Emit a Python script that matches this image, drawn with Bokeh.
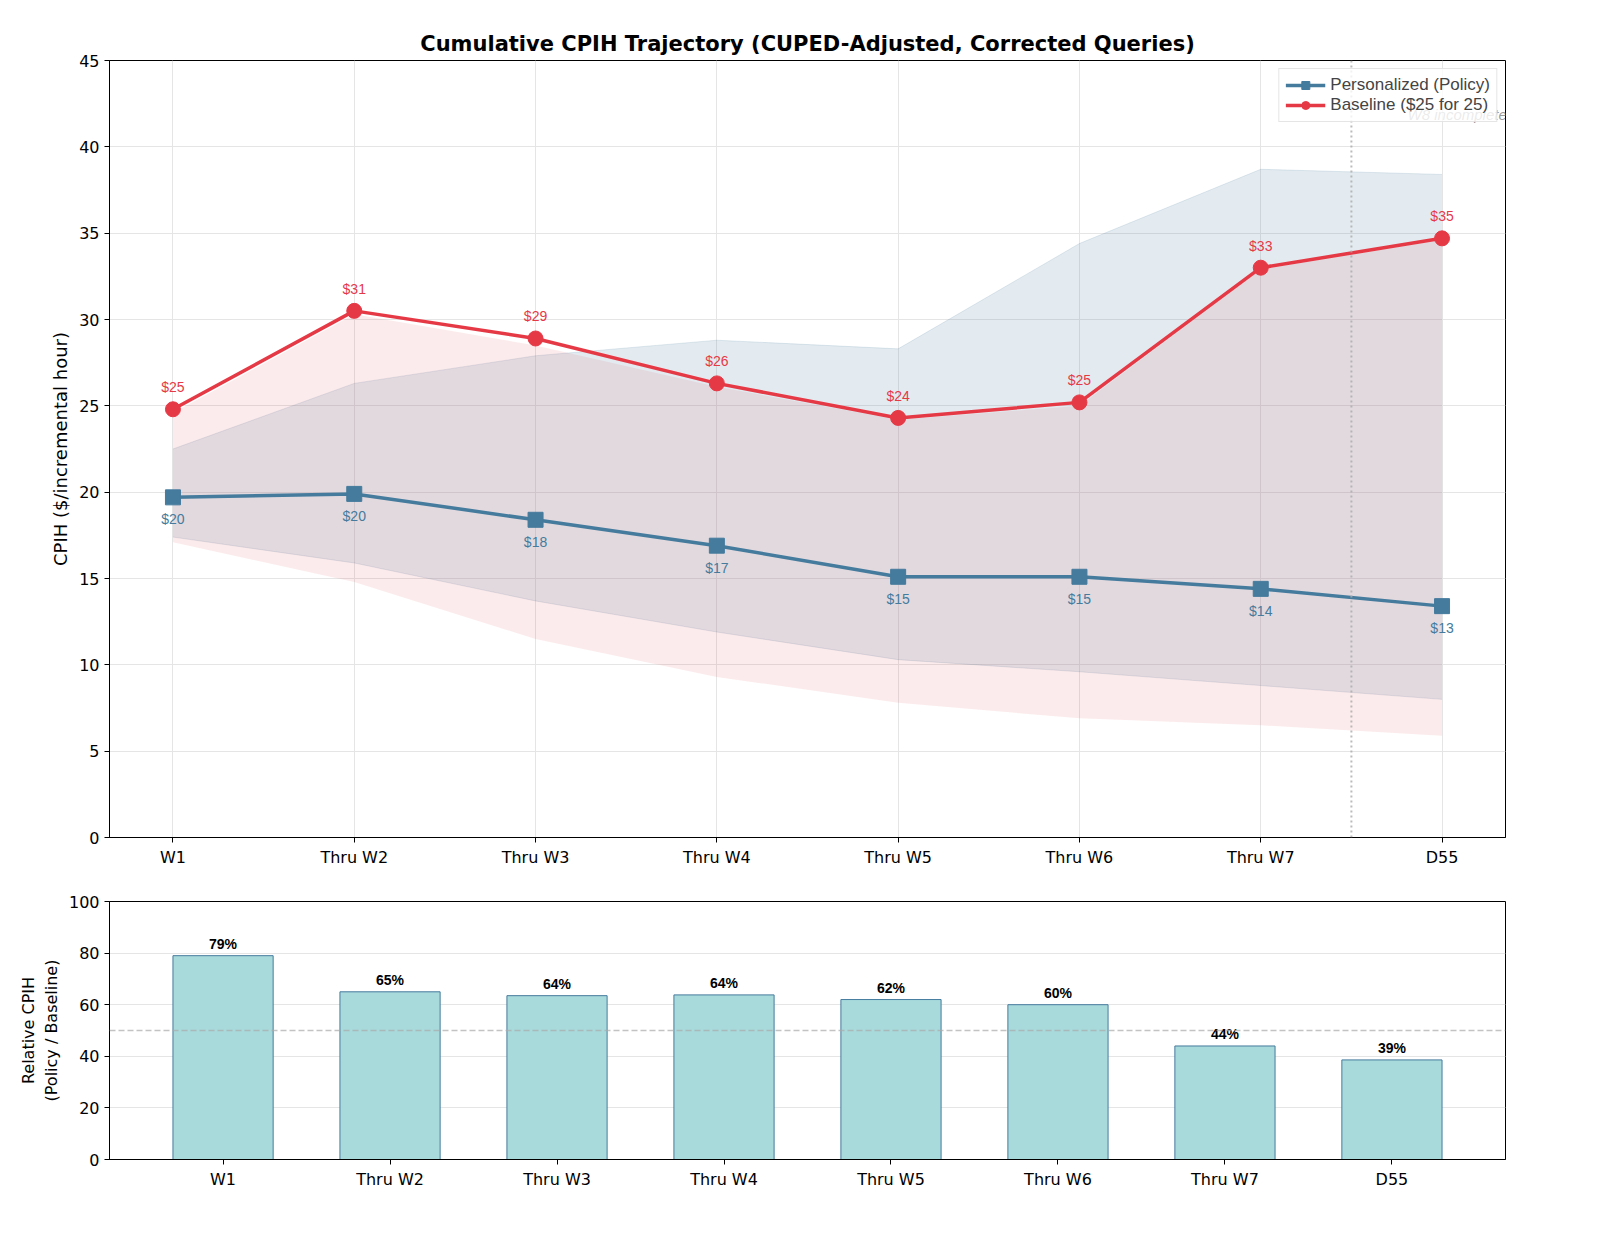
from bokeh.plotting import figure
from bokeh.layouts import column
from bokeh.models import Span, Legend, LegendItem, FixedTicker, Label, ColumnDataSource
from bokeh.embed import file_html
from bokeh.resources import INLINE

cats = ["W1", "Thru W2", "Thru W3", "Thru W4", "Thru W5", "Thru W6", "Thru W7", "D55"]
policy = [19.7, 19.9, 18.4, 16.9, 15.1, 15.1, 14.4, 13.4]
baseline = [24.8, 30.5, 28.9, 26.3, 24.3, 25.2, 33.0, 34.7]
policy_hi = [22.5, 26.3, 27.9, 28.8, 28.3, 34.4, 38.7, 38.4]
policy_lo = [17.4, 15.9, 13.7, 11.9, 10.3, 9.6, 8.8, 8.0]
base_hi = [24.6, 30.3, 28.5, 26.1, 24.2, 25.0, 32.9, 34.6]
base_lo = [17.1, 14.8, 11.5, 9.3, 7.8, 6.9, 6.5, 5.9]
policy_lbl = ["$20", "$20", "$18", "$17", "$15", "$15", "$14", "$13"]
base_lbl = ["$25", "$31", "$29", "$26", "$24", "$25", "$33", "$35"]
rel = [79, 65, 63.5, 63.8, 62, 60, 44, 38.6]
rel_lbl = ["79%", "65%", "64%", "64%", "62%", "60%", "44%", "39%"]

BLUE = "#457b9d"
RED = "#e63946"
x = list(range(len(cats)))
ticks = {i: c for i, c in enumerate(cats)}
W = 1560

def style(ax):
    ax.major_label_text_font_size = "16px"
    ax.major_label_text_font = "DejaVu Sans"
    ax.major_label_text_color = "black"
    ax.axis_label_text_font_style = "normal"
    ax.axis_label_text_font = "DejaVu Sans"
    ax.axis_label_text_color = "black"
    ax.minor_tick_line_color = None
    ax.major_tick_in = 0
    ax.major_tick_out = 5
    ax.axis_line_color = "black"
    ax.major_tick_line_color = "black"

p = figure(width=W, height=880, x_range=(-0.35, 7.35), y_range=(0, 45),
           output_backend="svg", toolbar_location=None,
           min_border_left=109, min_border_right=W - 109 - 1396, min_border_top=60, min_border_bottom=43,
           title="Cumulative CPIH Trajectory (CUPED-Adjusted, Corrected Queries)")
p.title.align = "center"
p.title.text_font_size = "21px"
p.title.text_font = "DejaVu Sans"
p.title.text_color = "black"
p.title.offset = 250
p.outline_line_color = "black"
p.outline_line_alpha = 1
p.grid.grid_line_color = "#e5e5e5"
p.xaxis.ticker = FixedTicker(ticks=x)
p.xaxis.major_label_overrides = ticks
p.yaxis.ticker = FixedTicker(ticks=list(range(0, 46, 5)))
p.yaxis.axis_label = "CPIH ($/incremental hour)"
style(p.xaxis); style(p.yaxis)
p.yaxis.axis_label_text_font_size = "18px"

p.varea(x=x, y1=policy_lo, y2=policy_hi, fill_color=BLUE, fill_alpha=0.15)
p.line(x=x, y=policy_hi, line_color=BLUE, line_alpha=0.15)
p.line(x=x, y=policy_lo, line_color=BLUE, line_alpha=0.15)
p.varea(x=x, y1=base_lo, y2=base_hi, fill_color=RED, fill_alpha=0.1)
l1 = p.line(x=x, y=policy, line_color=BLUE, line_width=3.5)
m1 = p.scatter(x=x, y=policy, marker="square", size=15, color=BLUE)
l2 = p.line(x=x, y=baseline, line_color=RED, line_width=3.5)
m2 = p.scatter(x=x, y=baseline, marker="circle", size=15, color=RED)

p.text(x=x, y=policy, text=policy_lbl, y_offset=14, text_align="center", text_baseline="top",
       text_color=BLUE, text_font_size="14px")
p.text(x=x, y=baseline, text=base_lbl, y_offset=-14, text_align="center", text_baseline="bottom",
       text_color=RED, text_font_size="14px")

p.add_layout(Span(location=6.5, dimension="height", line_color="#aaaaaa", line_dash="2 3",
                  line_width=2, line_alpha=0.8))
p.add_layout(Label(x=6.81, y=41.9, text="W8 incomplete →", text_font_style="italic",
                   text_color="gray", text_alpha=0.8, text_font_size="15px", text_baseline="middle"))

leg = Legend(items=[LegendItem(label="Personalized (Policy)", renderers=[l1, m1]),
                    LegendItem(label="Baseline ($25 for 25)", renderers=[l2, m2])],
             location="top_right", label_text_font_size="17px", border_line_color="#cccccc",
             background_fill_alpha=0.8, spacing=0, padding=6, margin=8, glyph_width=40)
p.add_layout(leg)

q = figure(width=W, height=324, x_range=(-0.68, 7.68), y_range=(0, 100),
           output_backend="svg", toolbar_location=None,
           min_border_left=109, min_border_right=W - 109 - 1396, min_border_top=21, min_border_bottom=45)
q.outline_line_color = "black"
q.outline_line_alpha = 1
q.xgrid.grid_line_color = None
q.ygrid.grid_line_color = "#e5e5e5"
q.xaxis.ticker = FixedTicker(ticks=x)
q.xaxis.major_label_overrides = ticks
q.yaxis.ticker = FixedTicker(ticks=[0, 20, 40, 60, 80, 100])
q.yaxis.axis_label = "Relative CPIH\n(Policy / Baseline)"
style(q.xaxis); style(q.yaxis)
q.yaxis.axis_label_text_font_size = "16px"
src = ColumnDataSource(dict(x=x, top=rel, lbl=rel_lbl))
q.vbar(x="x", top="top", width=0.6, source=src, fill_color="#a8dadc", line_color=BLUE)
q.add_layout(Span(location=50, dimension="width", line_color="#aaaaaa", line_dash="6 3",
                  line_width=1.5, line_alpha=0.7))
q.text(x="x", y="top", text="lbl", source=src, y_offset=-4, text_align="center",
       text_baseline="bottom", text_font_style="bold", text_font_size="14px")

open("out.html", "w").write(file_html(column(p, q), INLINE))
